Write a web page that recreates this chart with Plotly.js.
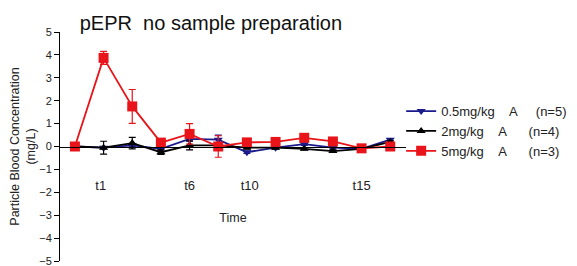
<!DOCTYPE html>
<html>
<head>
<meta charset="utf-8">
<script src="https://cdn.plot.ly/plotly-3.0.1.min.js"></script>
<style>html,body{margin:0;padding:0;background:#fff;}</style>
</head>
<body>
<div id="chart" style="width:577px;height:266px;"></div>
<script>
// Time points (index positions)
const timeIndex = [0, 1, 2, 3, 4, 5, 6, 7, 8, 9, 10, 11];
const tickPositions = [0.9, 4.0, 6.1, 10.0];
const tickLabels = ["t1", "t6", "t10", "t15"];

// 0.5 mg/kg (n=5)
const low = [0, -0.05, 0.05, -0.1, 0.33, 0.3, -0.25, -0.05, 0.1, -0.05, -0.1, 0.3];
const lowErr = [0, 0.05, 0.05, 0.05, 0.1, 0.2, 0.05, 0.05, 0.05, 0.05, 0.05, 0.05];
// 2 mg/kg (n=4)
const mid = [0, -0.05, 0.15, -0.25, 0.05, 0.05, -0.05, -0.05, -0.1, -0.2, -0.1, 0.2];
const midErr = [0, 0.28, 0.25, 0.1, 0.2, 0.05, 0.05, 0.05, 0.05, 0.05, 0.05, 0.05];
// 5 mg/kg (n=3)
const high = [0, 3.87, 1.75, 0.17, 0.55, 0.0, 0.18, 0.2, 0.38, 0.22, -0.08, 0.0];
const highErr = [0, 0.28, 0.74, 0.05, 0.45, 0.47, 0.08, 0.05, 0.05, 0.05, 0.05, 0.05];

const nb = "\u00a0";
const names = [
  "0.5mg/kg" + nb.repeat(4) + "A" + nb.repeat(5) + "(n=5)",
  "2mg/kg" + nb.repeat(4) + "A" + nb.repeat(6) + "(n=4)",
  "5mg/kg" + nb.repeat(4) + "A" + nb.repeat(6) + "(n=3)"
];

function series(y, err, name, color, symbol, size) {
  return {
    x: timeIndex, y: y, name: name, type: "scatter", mode: "lines+markers",
    line: {color: color, width: 1.8},
    marker: {color: color, symbol: symbol, size: size},
    error_y: {type: "data", array: err, visible: true, color: color, thickness: 1.2, width: 3.5}
  };
}

const data = [
  series(low, lowErr, names[0], "#1a1a8c", "triangle-down", 8),
  series(mid, midErr, names[1], "#000000", "triangle-up", 8),
  series(high, highErr, names[2], "#e8141a", "square", 10)
];

const layout = {
  width: 577, height: 266,
  margin: {l: 60, r: 167, t: 32, b: 5},
  paper_bgcolor: "#ffffff", plot_bgcolor: "#ffffff",
  font: {family: "Liberation Sans, Arial, sans-serif", color: "#222", size: 11},
  showlegend: true,
  title: {text: "pEPR" + nb + nb + "no sample preparation", x: 0.057, xanchor: "left", xref: "paper",
          y: 1 - 23 / 266, yanchor: "middle", yref: "container", font: {size: 20, color: "#111"}},
  xaxis: {
    range: [-0.52, 11.55], anchor: "free", position: 0.5,
    showline: true, linecolor: "#000", linewidth: 1, showgrid: false, zeroline: false,
    ticks: "", tickmode: "array", tickvals: tickPositions, ticktext: tickLabels,
    ticklabelstandoff: 27, tickfont: {size: 13},
    title: {text: "Time", standoff: 21, font: {size: 12.5}}
  },
  yaxis: {
    range: [-5, 5], dtick: 1, showline: true, linecolor: "#000", linewidth: 1,
    ticks: "outside", ticklen: 5, tickcolor: "#000", showgrid: false, zeroline: false,
    tickfont: {size: 11}, ticklabeloverflow: "allow",
    title: {text: "Particle Blood Concentration<br>(mg/L)", standoff: 0, font: {size: 12.5}}
  },
  legend: {x: 0.986, xanchor: "left", y: 0.72, yanchor: "top", font: {size: 13}, tracegroupgap: 0,
           bgcolor: "rgba(0,0,0,0)"}
};

Plotly.newPlot("chart", data, layout, {displayModeBar: false, staticPlot: true});
</script>
</body>
</html>
